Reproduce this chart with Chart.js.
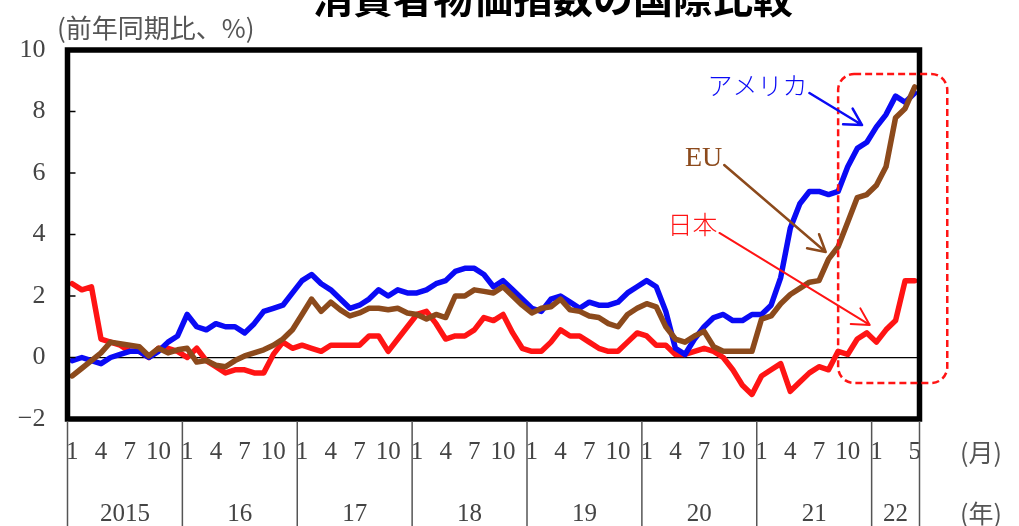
<!DOCTYPE html>
<html>
<head>
<meta charset="utf-8">
<script src="https://cdn.jsdelivr.net/npm/chart.js@4.4.1/dist/chart.umd.min.js"></script>
<style>
  html, body { margin: 0; padding: 0; background: #fff; overflow: hidden; }
  #wrap { width: 1019px; height: 526px; position: relative; }
</style>
</head>
<body>
<div id="wrap"><canvas id="c" width="1019" height="526"></canvas></div>
<script>
// Years on the axis and how many months each contributes
const years = [2015, 2016, 2017, 2018, 2019, 2020, 2021, 2022];
const yearLabels = ['2015', '16', '17', '18', '19', '20', '21', '22'];
const monthsPerYear = [12, 12, 12, 12, 12, 12, 12, 5];
// Months that get a tick label (the last, partial year shows 1 and 5)
const labelledMonths = [1, 4, 7, 10];
const labelledMonthsLastYear = [1, 5];
const yTicks = [-2, 0, 2, 4, 6, 8, 10];

// Consumer price index, year-on-year change (%)
const japan = [
  2.4, 2.2, 2.3, 0.6, 0.5, 0.4, 0.2, 0.2, 0.0, 0.3, 0.3, 0.2,
  0.0, 0.3, -0.1, -0.3, -0.5, -0.4, -0.4, -0.5, -0.5, 0.1, 0.5, 0.3,
  0.4, 0.3, 0.2, 0.4, 0.4, 0.4, 0.4, 0.7, 0.7, 0.2, 0.6, 1.0,
  1.4, 1.5, 1.1, 0.6, 0.7, 0.7, 0.9, 1.3, 1.2, 1.4, 0.8, 0.3,
  0.2, 0.2, 0.5, 0.9, 0.7, 0.7, 0.5, 0.3, 0.2, 0.2, 0.5, 0.8,
  0.7, 0.4, 0.4, 0.1, 0.1, 0.2, 0.3, 0.2, 0.0, -0.4, -0.9, -1.2,
  -0.6, -0.4, -0.2, -1.1, -0.8, -0.5, -0.3, -0.4, 0.2, 0.1, 0.6, 0.8,
  0.5, 0.9, 1.2, 2.5, 2.5
];
const usa = [
  -0.1, 0.0, -0.1, -0.2, 0.0, 0.1, 0.2, 0.2, 0.0, 0.2, 0.5, 0.7,
  1.4, 1.0, 0.9, 1.1, 1.0, 1.0, 0.8, 1.1, 1.5, 1.6, 1.7, 2.1,
  2.5, 2.7, 2.4, 2.2, 1.9, 1.6, 1.7, 1.9, 2.2, 2.0, 2.2, 2.1,
  2.1, 2.2, 2.4, 2.5, 2.8, 2.9, 2.9, 2.7, 2.3, 2.5, 2.2, 1.9,
  1.6, 1.5, 1.9, 2.0, 1.8, 1.6, 1.8, 1.7, 1.7, 1.8, 2.1, 2.3,
  2.5, 2.3, 1.5, 0.3, 0.1, 0.6, 1.0, 1.3, 1.4, 1.2, 1.2, 1.4,
  1.4, 1.7, 2.6, 4.2, 5.0, 5.4, 5.4, 5.3, 5.4, 6.2, 6.8, 7.0,
  7.5, 7.9, 8.5, 8.3, 8.6
];
const eu = [
  -0.6, -0.35, -0.1, 0.15, 0.5, 0.45, 0.4, 0.35, 0.05, 0.3, 0.15, 0.25,
  0.3, -0.15, -0.1, -0.25, -0.3, -0.1, 0.05, 0.15, 0.25, 0.4, 0.6, 0.9,
  1.4, 1.9, 1.5, 1.8, 1.55, 1.35, 1.45, 1.6, 1.6, 1.55, 1.6, 1.45,
  1.4, 1.25, 1.4, 1.3, 2.0, 2.0, 2.2, 2.15, 2.1, 2.3, 2.0, 1.7,
  1.45, 1.6, 1.65, 1.9, 1.55, 1.5, 1.35, 1.3, 1.1, 1.0, 1.4, 1.6,
  1.75, 1.65, 1.0, 0.6, 0.5, 0.7, 0.85, 0.35, 0.2, 0.2, 0.2, 0.2,
  1.25, 1.35, 1.75, 2.05, 2.25, 2.45, 2.5, 3.2, 3.6, 4.4, 5.2, 5.3,
  5.6, 6.2, 7.8, 8.1, 8.8
];

const BLUE = '#0a0af5';
const RED = '#ff1414';
const BROWN = '#8c4a1c';
const SERIF = "'Liberation Serif', 'DejaVu Serif', serif";
const CJK = "'Noto Sans CJK JP', 'Noto Sans', sans-serif";

// Build the monthly categories and the month tick texts
const categories = [];
const monthLabels = [];
const yearStartIndex = [];
years.forEach((y, yi) => {
  yearStartIndex.push(categories.length);
  const shown = yi === years.length - 1 ? labelledMonthsLastYear : labelledMonths;
  for (let m = 1; m <= monthsPerYear[yi]; m++) {
    categories.push(y + '-' + m);
    monthLabels.push(shown.includes(m) ? String(m) : '');
  }
});

// Call-outs, positioned in data units: [category index, value]
const callouts = [
  { text: 'アメリカ', color: BLUE, font: '300 25px ' + CJK, textAt: [76.8, 8.83], from: [77.0, 8.6], to: [82.5, 7.56], width: 2.5 },
  { text: 'EU', color: BROWN, font: '28px ' + SERIF, textAt: [67.9, 6.47], from: [68.1, 6.26], to: [78.7, 3.43], width: 2.5 },
  { text: '日本', color: RED, font: '300 25px ' + CJK, textAt: [67.4, 4.31], from: [67.6, 4.05], to: [83.3, 1.06], width: 2 }
];
const highlightBox = { x0: 80.0, x1: 91.4, y0: -0.83, y1: 9.22 };

function drawArrow(ctx, x1, y1, x2, y2, color, w) {
  const ang = Math.atan2(y2 - y1, x2 - x1);
  const len = 19, spread = Math.PI / 6.2;
  ctx.save();
  ctx.strokeStyle = color;
  ctx.lineWidth = w;
  ctx.lineCap = 'round';
  ctx.lineJoin = 'round';
  ctx.beginPath();
  ctx.moveTo(x1, y1);
  ctx.lineTo(x2, y2);
  ctx.moveTo(x2 - len * Math.cos(ang - spread), y2 - len * Math.sin(ang - spread));
  ctx.lineTo(x2, y2);
  ctx.lineTo(x2 - len * Math.cos(ang + spread), y2 - len * Math.sin(ang + spread));
  ctx.stroke();
  ctx.restore();
}

function roundRectPath(ctx, x, y, w, h, r) {
  ctx.beginPath();
  ctx.moveTo(x + r, y);
  ctx.lineTo(x + w - r, y);
  ctx.arcTo(x + w, y, x + w, y + r, r);
  ctx.lineTo(x + w, y + h - r);
  ctx.arcTo(x + w, y + h, x + w - r, y + h, r);
  ctx.lineTo(x + r, y + h);
  ctx.arcTo(x, y + h, x, y + h - r, r);
  ctx.lineTo(x, y + r);
  ctx.arcTo(x, y, x + r, y, r);
  ctx.closePath();
}

const decorations = {
  id: 'decorations',
  afterDatasetsDraw(chart) {
    const { ctx, chartArea: a } = chart;
    const ys = chart.scales.y;
    ctx.save();
    // short inner ticks on the value axis
    ctx.strokeStyle = '#000';
    ctx.lineWidth = 1.5;
    yTicks.forEach(v => {
      if (v === yTicks[0] || v === yTicks[yTicks.length - 1]) return;
      const y = ys.getPixelForValue(v);
      ctx.beginPath();
      ctx.moveTo(a.left, y);
      ctx.lineTo(a.left + 8, y);
      ctx.stroke();
    });
    // heavy plot frame
    ctx.lineWidth = 5.5;
    ctx.strokeRect(a.left, a.top, a.right - a.left, a.bottom - a.top);
    ctx.restore();
  },
  afterDraw(chart) {
    const { ctx, chartArea: a } = chart;
    const xs = chart.scales.x, ys = chart.scales.y;
    const band = (a.right - a.left) / categories.length;
    const H = chart.height;
    ctx.save();

    // year separators and year labels under the month ticks
    const edges = yearStartIndex.map(i => xs.getPixelForValue(i) - band / 2);
    edges.push(a.right);
    ctx.strokeStyle = '#555';
    ctx.lineWidth = 1.5;
    edges.forEach(x => {
      ctx.beginPath();
      ctx.moveTo(x, a.bottom + 2);
      ctx.lineTo(x, H);
      ctx.stroke();
    });
    ctx.fillStyle = '#444';
    ctx.font = '25px ' + SERIF;
    ctx.textAlign = 'center';
    ctx.textBaseline = 'middle';
    yearLabels.forEach((t, i) => {
      ctx.fillText(t, (edges[i] + edges[i + 1]) / 2, 514);
    });

    // unit captions
    ctx.fillStyle = '#555';
    ctx.font = '25px ' + CJK;
    ctx.textAlign = 'left';
    ctx.fillText('(月)', 960, 452);
    ctx.fillText('(年)', 960, 513);
    ctx.font = '26px ' + CJK;
    ctx.fillText('(前年同期比、%)', 57, 28);

    // title
    ctx.fillStyle = '#000';
    ctx.font = 'bold 40px ' + CJK;
    ctx.textAlign = 'center';
    ctx.textBaseline = 'alphabetic';
    ctx.fillText('消費者物価指数の国際比較', 553, 13);

    // dashed highlight around the latest months
    const bx0 = xs.getPixelForValue(highlightBox.x0);
    const bx1 = a.left + (highlightBox.x1 + 0.5) * band;
    const by0 = ys.getPixelForValue(highlightBox.y1);
    const by1 = ys.getPixelForValue(highlightBox.y0);
    ctx.strokeStyle = RED;
    ctx.lineWidth = 2.5;
    ctx.setLineDash([7, 4]);
    roundRectPath(ctx, bx0, by0, bx1 - bx0, by1 - by0, 16);
    ctx.stroke();
    ctx.setLineDash([]);

    // series call-outs with arrows
    const px = i => a.left + (i + 0.5) * band;
    callouts.forEach(c => {
      ctx.fillStyle = c.color;
      ctx.font = c.font;
      ctx.textAlign = 'right';
      ctx.textBaseline = 'middle';
      ctx.fillText(c.text, px(c.textAt[0]), ys.getPixelForValue(c.textAt[1]));
      drawArrow(ctx, px(c.from[0]), ys.getPixelForValue(c.from[1]),
                px(c.to[0]), ys.getPixelForValue(c.to[1]), c.color, c.width);
    });
    ctx.restore();
  }
};

const lineStyle = { borderWidth: 5.5, pointRadius: 0, tension: 0, fill: false, borderJoinStyle: 'round', borderCapStyle: 'round' };

new Chart(document.getElementById('c'), {
  type: 'line',
  data: {
    labels: categories,
    datasets: [
      Object.assign({ label: '日本', data: japan, borderColor: RED, order: 3 }, lineStyle),
      Object.assign({ label: 'アメリカ', data: usa, borderColor: BLUE, order: 2 }, lineStyle),
      Object.assign({ label: 'EU', data: eu, borderColor: BROWN, order: 1 }, lineStyle)
    ]
  },
  options: {
    responsive: false,
    animation: false,
    devicePixelRatio: 1,
    layout: { padding: { left: 0, right: 99.5, top: 50, bottom: 0 } },
    plugins: { legend: { display: false }, tooltip: { enabled: false }, title: { display: false } },
    scales: {
      x: {
        type: 'category',
        offset: true,
        grid: { display: false, drawTicks: false },
        border: { display: false },
        ticks: {
          autoSkip: false,
          maxRotation: 0,
          minRotation: 0,
          padding: 18,
          color: '#444',
          font: { family: SERIF, size: 25 },
          callback: (v, i) => monthLabels[i]
        },
        afterFit: s => { s.height = 107; }
      },
      y: {
        min: yTicks[0],
        max: yTicks[yTicks.length - 1],
        afterBuildTicks: s => { s.ticks = yTicks.map(v => ({ value: v })); },
        grid: {
          drawTicks: false,
          color: c => (c.tick && c.tick.value === 0 ? '#000' : 'rgba(0,0,0,0)'),
          lineWidth: 1.3
        },
        border: { display: false },
        ticks: {
          padding: 22,
          color: '#444',
          font: { family: SERIF, size: 26 },
          callback: v => (v < 0 ? '\u2212' + Math.abs(v) : String(v))
        },
        afterFit: s => { s.width = 67.5; }
      }
    }
  },
  plugins: [decorations]
});
</script>
</body>
</html>
